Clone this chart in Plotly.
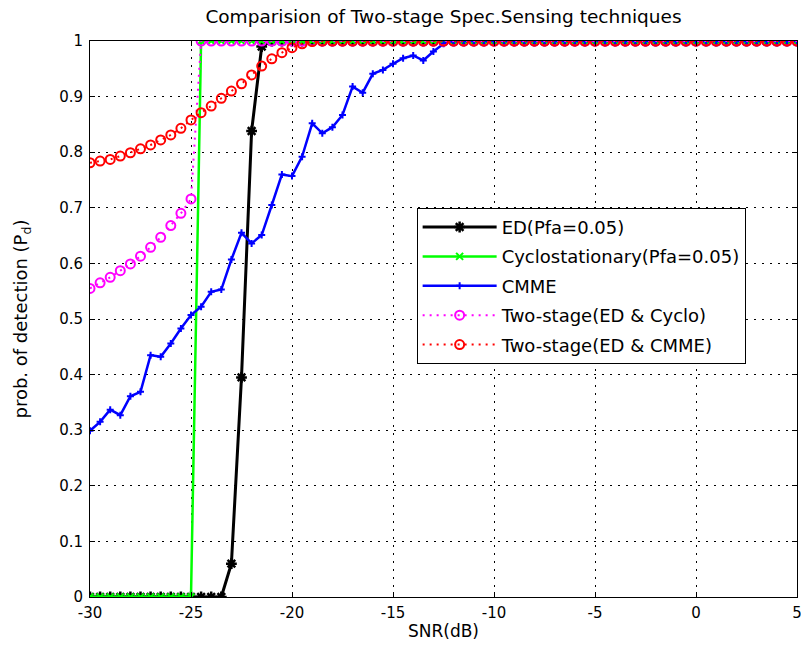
import plotly.graph_objects as go

SNR = [-30, -29.5, -29, -28.5, -28, -27.5, -27, -26.5, -26, -25.5,
       -25, -24.5, -24, -23.5, -23, -22.5, -22, -21.5, -21, -20.5,
       -20, -19.5, -19, -18.5, -18, -17.5, -17, -16.5, -16, -15.5,
       -15, -14.5, -14, -13.5, -13, -12.5, -12, -11.5, -11, -10.5,
       -10, -9.5, -9, -8.5, -8, -7.5, -7, -6.5, -6, -5.5,
       -5, -4.5, -4, -3.5, -3, -2.5, -2, -1.5, -1, -0.5,
       0, 0.5, 1, 1.5, 2, 2.5, 3, 3.5, 4, 4.5, 5]

ED = [0, 0, 0, 0, 0, 0, 0, 0, 0, 0,
      0, 0, 0, 0, 0.06, 0.395, 0.838, 0.99, 1, 1,
      1, 1, 1, 1, 1, 1, 1, 1, 1, 1,
      1, 1, 1, 1, 1, 1, 1, 1, 1, 1,
      1, 1, 1, 1, 1, 1, 1, 1, 1, 1,
      1, 1, 1, 1, 1, 1, 1, 1, 1, 1,
      1, 1, 1, 1, 1, 1, 1, 1, 1, 1, 1]

CYCLO = [0, 0, 0, 0, 0, 0, 0, 0, 0, 0,
         0, 1, 1, 1, 1, 1, 1, 1, 1, 1,
         1, 1, 1, 1, 1, 1, 1, 1, 1, 1,
         1, 1, 1, 1, 1, 1, 1, 1, 1, 1,
         1, 1, 1, 1, 1, 1, 1, 1, 1, 1,
         1, 1, 1, 1, 1, 1, 1, 1, 1, 1,
         1, 1, 1, 1, 1, 1, 1, 1, 1, 1, 1]

CMME = [0.299, 0.315, 0.337, 0.327, 0.361, 0.369, 0.435, 0.432, 0.456, 0.483,
        0.507, 0.522, 0.549, 0.553, 0.607, 0.655, 0.636, 0.651, 0.705, 0.760,
        0.757, 0.792, 0.852, 0.834, 0.845, 0.867, 0.918, 0.907, 0.941, 0.948,
        0.959, 0.969, 0.974, 0.965, 0.981, 0.995, 1, 1, 1, 1,
        1, 1, 1, 1, 1, 1, 1, 1, 1, 1,
        1, 1, 1, 1, 1, 1, 1, 1, 1, 1,
        1, 1, 1, 1, 1, 1, 1, 1, 1, 1, 1]

TWO_CYCLO = [0.555, 0.565, 0.575, 0.587, 0.599, 0.613, 0.629, 0.647, 0.668, 0.690,
             0.716, 1, 1, 1, 1, 1, 1, 1, 1, 1,
             1, 1, 1, 1, 1, 1, 1, 1, 1, 1,
             1, 1, 1, 1, 1, 1, 1, 1, 1, 1,
             1, 1, 1, 1, 1, 1, 1, 1, 1, 1,
             1, 1, 1, 1, 1, 1, 1, 1, 1, 1,
             1, 1, 1, 1, 1, 1, 1, 1, 1, 1, 1]

TWO_CMME = [0.781, 0.784, 0.787, 0.793, 0.799, 0.806, 0.813, 0.822, 0.831, 0.843,
            0.858, 0.871, 0.883, 0.897, 0.910, 0.923, 0.939, 0.955, 0.968, 0.979,
            0.988, 0.995, 0.999, 1, 1, 1, 1, 1, 1, 1,
            1, 1, 1, 1, 1, 1, 1, 1, 1, 1,
            1, 1, 1, 1, 1, 1, 1, 1, 1, 1,
            1, 1, 1, 1, 1, 1, 1, 1, 1, 1,
            1, 1, 1, 1, 1, 1, 1, 1, 1, 1, 1]

X_TICKS = [-30, -25, -20, -15, -10, -5, 0, 5]
X_TICK_TEXT = ["-30", "-25", "-20", "-15", "-10", "-5", "0", "5"]
Y_TICKS = [0, 0.1, 0.2, 0.3, 0.4, 0.5, 0.6, 0.7, 0.8, 0.9, 1]
Y_TICK_TEXT = ["0", "0.1", "0.2", "0.3", "0.4", "0.5", "0.6", "0.7", "0.8", "0.9", "1"]

FONT = "DejaVu Sans, Verdana, sans-serif"

fig = go.Figure()
fig.add_trace(go.Scatter(
    x=SNR, y=ED, name="ED(Pfa=0.05)", mode="lines+markers", legendgroup="g1",
    line=dict(color="black", width=3),
    marker=dict(symbol="asterisk-open", size=9, color="black",
                line=dict(color="black", width=2.5))))
fig.add_trace(go.Scatter(
    x=SNR, y=CYCLO, name="Cyclostationary(Pfa=0.05)", mode="lines+markers", legendgroup="g2",
    line=dict(color="#00ff00", width=2.5),
    marker=dict(symbol="x-thin-open", size=7, color="#00ff00",
                line=dict(color="#00ff00", width=2))))
fig.add_trace(go.Scatter(
    x=SNR, y=CMME, name="CMME", mode="lines+markers", legendgroup="g3",
    line=dict(color="#0000ff", width=2.5),
    marker=dict(symbol="cross-thin-open", size=5, color="#0000ff",
                line=dict(color="#0000ff", width=2))))
fig.add_trace(go.Scatter(
    x=SNR, y=TWO_CYCLO, name="Two-stage(ED & Cyclo)", mode="lines+markers", legendgroup="g4",
    line=dict(color="#ff00ff", width=2, dash="2px,5px"),
    marker=dict(symbol="circle-open", size=9, color="#ff00ff",
                line=dict(color="#ff00ff", width=2))))
fig.add_trace(go.Scatter(
    x=SNR, y=TWO_CMME, name="Two-stage(ED & CMME)", mode="lines+markers", legendgroup="g5",
    line=dict(color="#ff0000", width=2, dash="2px,5px"),
    marker=dict(symbol="circle-open", size=9, color="#ff0000",
                line=dict(color="#ff0000", width=2))))

axis_common = dict(
    showline=True, linecolor="black", linewidth=1, mirror="ticks",
    ticks="inside", ticklen=5, tickcolor="black",
    showgrid=True, gridcolor="black", gridwidth=1, griddash="2px,6px",
    zeroline=False, automargin=False, ticklabeloverflow="allow",
    tickfont=dict(size=15, color="black", family=FONT),
)

fig.update_xaxes(range=[-30, 5], tickmode="array", tickvals=X_TICKS, ticktext=X_TICK_TEXT,
                 ticklabelstandoff=2,
                 title=dict(text="SNR(dB)", font=dict(size=17, color="black", family=FONT), standoff=4),
                 **axis_common)
fig.update_yaxes(range=[0, 1], tickmode="array", tickvals=Y_TICKS, ticktext=Y_TICK_TEXT,
                 ticklabelstandoff=3,
                 title=dict(text="prob. of detection (P<sub>d</sub>)",
                            font=dict(size=18, color="black", family=FONT), standoff=26),
                 **axis_common)

fig.update_layout(
    width=801, height=656,
    margin=dict(l=90, r=4, t=41, b=59, autoexpand=False),
    paper_bgcolor="white", plot_bgcolor="white",
    font=dict(family=FONT, color="black"),
    title=dict(text="Comparision of Two-stage Spec.Sensing techniques",
               font=dict(size=18.5, color="black", family=FONT),
               x=(90 + 797) / 2 / 801, xanchor="center",
               yref="container", y=1 - 17 / 656, yanchor="middle",
               automargin=False),
    legend=dict(x=0.462, y=0.70, xanchor="left", yanchor="top",
                bgcolor="white", bordercolor="black", borderwidth=1,
                itemwidth=74, traceorder="grouped", tracegroupgap=3,
                font=dict(size=18, color="black", family=FONT)),
    showlegend=True,
)

fig.write_html("out.html",
               config={"displayModeBar": False},
               post_script="document.body.style.margin='0';document.body.style.padding='0';")
